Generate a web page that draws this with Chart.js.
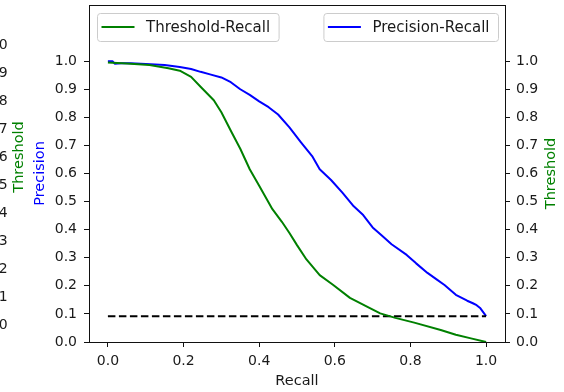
<!DOCTYPE html>
<html><head><meta charset="utf-8">
<script src="https://cdn.jsdelivr.net/npm/chart.js@4.4.1/dist/chart.umd.min.js"></script>
<style>
html,body{margin:0;padding:0;background:#fff;overflow:hidden;width:564px;height:392px;}
#wrap{position:absolute;left:-20px;top:0;width:584px;height:392px;}
canvas{display:block;}
</style></head>
<body><div id="wrap"><canvas id="c" width="584" height="392"></canvas></div>
<script>
// ---- data ----
const precisionRecall = [0, 0.012, 0.018, 0.035, 0.060, 0.100, 0.150, 0.190, 0.220, 0.245, 0.270, 0.300, 0.325, 0.350, 0.375, 0.400, 0.425, 0.450, 0.480, 0.510, 0.540, 0.560, 0.590, 0.620, 0.650, 0.675, 0.700, 0.725, 0.750, 0.790, 0.815, 0.845, 0.870, 0.890, 0.920, 0.950, 0.965, 0.975, 0.985, 1.000];
const precision       = [1.000, 1.000, 0.991, 0.993, 0.993, 0.990, 0.986, 0.979, 0.972, 0.962, 0.953, 0.942, 0.925, 0.900, 0.880, 0.857, 0.836, 0.810, 0.764, 0.712, 0.662, 0.615, 0.577, 0.532, 0.483, 0.452, 0.408, 0.378, 0.348, 0.310, 0.280, 0.246, 0.222, 0.203, 0.168, 0.147, 0.138, 0.131, 0.120, 0.092];
const thresholdRecall = [0, 0.050, 0.110, 0.160, 0.190, 0.220, 0.245, 0.280, 0.300, 0.325, 0.350, 0.375, 0.400, 0.435, 0.460, 0.480, 0.500, 0.525, 0.560, 0.595, 0.640, 0.685, 0.720, 0.760, 0.810, 0.880, 0.920, 0.960, 1.000];
const threshold       = [0.995, 0.992, 0.986, 0.975, 0.966, 0.944, 0.909, 0.861, 0.818, 0.752, 0.688, 0.615, 0.556, 0.473, 0.428, 0.388, 0.345, 0.294, 0.238, 0.204, 0.157, 0.126, 0.102, 0.086, 0.069, 0.043, 0.026, 0.013, 0.000];
const baselineRecall  = [0, 1];
const baseline        = [0.092, 0.092];
const xTicks = [0, 0.2, 0.4, 0.6, 0.8, 1.0];
const yTicks = [0, 0.1, 0.2, 0.3, 0.4, 0.5, 0.6, 0.7, 0.8, 0.9, 1.0];
const seriesLabels = ['Threshold-Recall', 'Precision-Recall'];
const xTitle = 'Recall';
const precisionTitle = 'Precision';
const thresholdTitle = 'Threshold';

const FAM = 'DejaVu Sans';
const TXT = '#1a1a1a';
const SPINE = '#111';
const GREEN = '#008000';
const BLUE = '#0000ff';
Chart.defaults.font.family = FAM;

const zip = (xs, ys) => xs.map((x, i) => ({x: x, y: ys[i]}));
const setTicks = arr => (s => { s.ticks = arr.map(v => ({value: v})); });
const fmt = v => Number(v).toFixed(1);
const fitWidth = w => (s => { s.width = w; s.paddingTop = 0; s.paddingBottom = 0; });

function roundRect(ctx, x, y, w, h, r) {
  ctx.beginPath();
  ctx.moveTo(x + r, y);
  ctx.lineTo(x + w - r, y); ctx.quadraticCurveTo(x + w, y, x + w, y + r);
  ctx.lineTo(x + w, y + h - r); ctx.quadraticCurveTo(x + w, y + h, x + w - r, y + h);
  ctx.lineTo(x + r, y + h); ctx.quadraticCurveTo(x, y + h, x, y + h - r);
  ctx.lineTo(x, y + r); ctx.quadraticCurveTo(x, y, x + r, y);
  ctx.closePath();
}

function legendBox(ctx, anchorX, top, label, color, alignRight) {
  ctx.font = '15px ' + FAM;
  const tw = ctx.measureText(label).width;
  const w = 4.5 + 33 + 11.5 + tw + 8.5;
  const h = 28;
  const left = alignRight ? anchorX - w : anchorX;
  roundRect(ctx, left + 0.5, top + 0.5, w, h, 3);
  ctx.fillStyle = 'rgba(255,255,255,0.8)';
  ctx.fill();
  ctx.strokeStyle = '#cccccc'; ctx.lineWidth = 1; ctx.stroke();
  ctx.beginPath();
  ctx.moveTo(left + 4.5, top + h / 2); ctx.lineTo(left + 37.5, top + h / 2);
  ctx.strokeStyle = color; ctx.lineWidth = 2; ctx.stroke();
  ctx.fillStyle = TXT; ctx.textAlign = 'left'; ctx.textBaseline = 'middle';
  ctx.fillText(label, left + 49, top + h / 2 + 1);
}

function rotText(ctx, text, x, y) {
  ctx.save(); ctx.translate(x, y); ctx.rotate(-Math.PI / 2);
  ctx.fillText(text, 0, 0); ctx.restore();
}

const decor = {
  id: 'decor',
  afterDraw(chart) {
    const ctx = chart.ctx, a = chart.chartArea;
    ctx.save();
    ctx.strokeStyle = SPINE; ctx.lineWidth = 1;
    ctx.beginPath(); ctx.moveTo(a.left, Math.round(a.top) + 0.5); ctx.lineTo(a.right, Math.round(a.top) + 0.5); ctx.stroke();
    ctx.fillStyle = GREEN; ctx.font = '14.5px ' + FAM;
    ctx.textAlign = 'center'; ctx.textBaseline = 'middle';
    rotText(ctx, thresholdTitle, chart.scales.yT.right - 1, a.top + 152);
    rotText(ctx, thresholdTitle, chart.scales.y2.right - 12.5, (a.top + a.bottom) / 2);
    legendBox(ctx, a.left + 8, a.top + 8, chart.data.datasets[0].label, chart.data.datasets[0].borderColor, false);
    legendBox(ctx, a.right - 7, a.top + 8, chart.data.datasets[2].label, chart.data.datasets[2].borderColor, true);
    ctx.restore();
  }
};

const tickFont = {family: FAM, size: 14};
const titleFont = {family: FAM, size: 14.5};
const gridOpts = {drawOnChartArea: false, drawTicks: true, tickLength: 5, tickColor: SPINE, tickWidth: 1};

new Chart(document.getElementById('c'), {
  type: 'line',
  data: {
    datasets: [
      {label: seriesLabels[0], data: zip(thresholdRecall, threshold), borderColor: GREEN, borderWidth: 2, pointRadius: 0, yAxisID: 'y2', tension: 0, borderJoinStyle: 'round'},
      {label: 'baseline', data: zip(baselineRecall, baseline), borderColor: '#000', borderWidth: 2, borderDash: [7.5, 3.5], pointRadius: 0, yAxisID: 'y', tension: 0},
      {label: seriesLabels[1], data: zip(precisionRecall, precision), borderColor: BLUE, borderWidth: 2, pointRadius: 0, yAxisID: 'y', tension: 0, borderJoinStyle: 'round'}
    ]
  },
  options: {
    responsive: false, animation: false, events: [],
    layout: {padding: {top: 5, left: 0, right: 0, bottom: 0}},
    plugins: {legend: {display: false}, tooltip: {enabled: false}},
    scales: {
      x: {
        type: 'linear', position: 'bottom', min: -0.05, max: 1.05,
        afterBuildTicks: setTicks(xTicks),
        afterFit: s => { s.height = 50; s.paddingLeft = 0; s.paddingRight = 0; },
        ticks: {callback: fmt, font: tickFont, color: TXT, padding: 6, maxRotation: 0, autoSkip: false},
        grid: gridOpts, border: {display: true, color: SPINE, width: 1},
        title: {display: true, text: xTitle, font: titleFont, color: TXT, padding: {top: 0, bottom: 2.5}}
      },
      y: {
        type: 'linear', position: 'left', weight: 0, min: 0, max: 1.2,
        afterBuildTicks: setTicks(yTicks), afterFit: fitWidth(69),
        ticks: {callback: fmt, font: tickFont, color: TXT, padding: 7, autoSkip: false},
        grid: gridOpts, border: {display: true, color: SPINE, width: 1},
        title: {display: true, text: precisionTitle, font: titleFont, color: BLUE, padding: {top: 11.3, bottom: 0}}
      },
      yT: {
        type: 'linear', position: 'left', weight: 1, min: -0.0607, max: 1.1429,
        afterBuildTicks: setTicks(yTicks), afterFit: fitWidth(40),
        ticks: {callback: fmt, font: tickFont, color: TXT, padding: 12.3, autoSkip: false},
        grid: {display: false, drawTicks: false}, border: {display: false}
      },
      y2: {
        type: 'linear', position: 'right', min: 0, max: 1.2,
        afterBuildTicks: setTicks(yTicks), afterFit: fitWidth(59),
        ticks: {callback: fmt, font: tickFont, color: TXT, padding: 6, autoSkip: false},
        grid: gridOpts, border: {display: true, color: SPINE, width: 1}
      }
    }
  },
  plugins: [decor]
});
</script>
</body></html>
